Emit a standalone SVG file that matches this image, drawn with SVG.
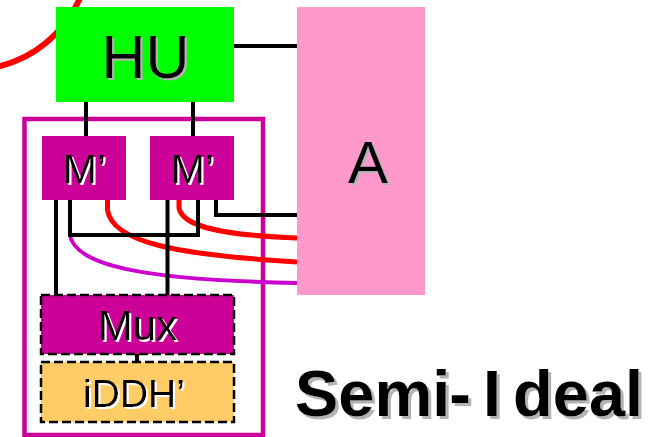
<svg xmlns="http://www.w3.org/2000/svg" width="657" height="437" viewBox="0 0 657 437">
<defs>
<style>
.lbl{font-family:"Liberation Sans",Arial,sans-serif;text-anchor:middle;fill:#000}
.blk{fill:none;stroke:#000;stroke-width:4}
.red{fill:none;stroke:#FF0000;stroke-width:5}
.pur{fill:none;stroke:#CC00CC;stroke-width:4}
.mag{fill:#CC0099}
.dash{stroke:#000;stroke-width:2.5;stroke-dasharray:9 4}
</style>
<filter id="shg2" x="-20%" y="-20%" width="140%" height="140%">
<feOffset in="SourceAlpha" dx="2" dy="2" result="o"/>
<feFlood flood-color="#B3B3B3"/>
<feComposite in2="o" operator="in" result="s"/>
<feMerge><feMergeNode in="s"/><feMergeNode in="SourceGraphic"/></feMerge>
</filter>
<filter id="shg3" x="-20%" y="-20%" width="140%" height="140%">
<feOffset in="SourceAlpha" dx="3" dy="3" result="o"/>
<feFlood flood-color="#B3B3B3"/>
<feComposite in2="o" operator="in" result="s"/>
<feMerge><feMergeNode in="s"/><feMergeNode in="SourceGraphic"/></feMerge>
</filter>
<filter id="shw" x="-20%" y="-20%" width="140%" height="140%">
<feOffset in="SourceAlpha" dx="1.5" dy="1.5" result="o"/>
<feFlood flood-color="#FFFFFF"/>
<feComposite in2="o" operator="in" result="s"/>
<feMerge><feMergeNode in="s"/><feMergeNode in="SourceGraphic"/></feMerge>
</filter>
</defs>
<rect width="657" height="437" fill="#FFFFFF"/>
<g id="red-arc">
<circle cx="-30" cy="-50" r="120" fill="none" stroke="#FF0000" stroke-width="6"/>
</g>
<g id="frame">
<rect x="24.5" y="119" width="238.5" height="316" fill="none" stroke="#CC0099" stroke-width="4.5"/>
</g>
<g id="hu">
<rect x="56" y="7" width="178" height="95" fill="#00FF00"/>
<text class="lbl" x="145.5" y="78" font-size="61" filter="url(#shg2)">HU</text>
</g>
<g id="a">
<rect x="297" y="7" width="128" height="288" fill="#FF99CC"/>
<text class="lbl" x="368" y="183" font-size="60" filter="url(#shg2)">A</text>
</g>
<g id="mprime1">
<rect class="mag" x="42" y="136" width="84" height="64"/>
<text class="lbl" x="84.5" y="183" font-size="41" filter="url(#shw)">M’</text>
</g>
<g id="mprime2">
<rect class="mag" x="150" y="136" width="84" height="64"/>
<text class="lbl" x="192.5" y="183" font-size="41" filter="url(#shw)">M’</text>
</g>
<g id="connectors">
<path class="red" d="M107.5,200 L107.5,210 C112,243 180,255 297,262"/>
<path class="red" d="M179,200 L179,208 C182,225 215,235 297,238"/>
<path class="pur" d="M70,235 C75,265 140,280 297,283"/>
<path class="blk" d="M234,46 H297"/>
<path class="blk" d="M86,102 V136"/>
<path class="blk" d="M193,102 V136"/>
<path class="blk" d="M56,200 V295"/>
<path class="blk" d="M167.5,200 V295"/>
<path class="blk" d="M70,200 V235 H198 V200"/>
<path class="blk" d="M216,200 V215 H297"/>
<path class="blk" d="M137,354 V362"/>
</g>
<g id="mux">
<rect class="mag dash" x="41" y="295" width="193" height="59"/>
<text class="lbl" x="137.5" y="340" font-size="42" filter="url(#shw)">Mux</text>
</g>
<g id="iddh">
<rect class="dash" x="41" y="362" width="193" height="60" fill="#FFCC66"/>
<text class="lbl" x="134" y="407" font-size="39" filter="url(#shw)">iDDH’</text>
</g>
<g id="title">
<text x="295" y="416" font-family="'Liberation Sans',Arial,sans-serif" font-weight="bold" font-size="65" fill="#000" filter="url(#shg3)">Semi<tspan dx="-1">-</tspan><tspan dx="12">I</tspan><tspan dx="12">deal</tspan></text>
</g>
</svg>
